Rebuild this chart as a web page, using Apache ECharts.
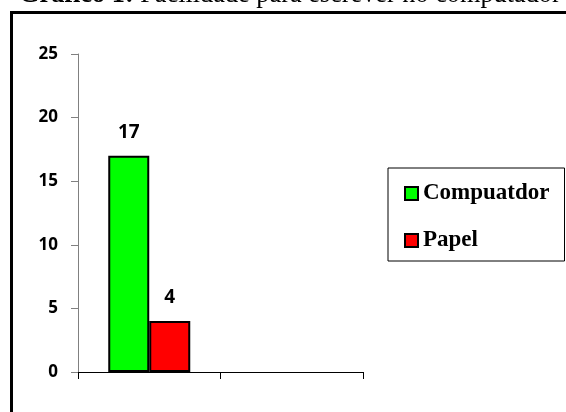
<!DOCTYPE html>
<html>
<head>
<meta charset="utf-8">
<script src="https://cdn.jsdelivr.net/npm/echarts@6/dist/echarts.min.js"></script>
<style>
  html, body { margin: 0; padding: 0; background: #fff; }
  #chart { width: 566px; height: 412px; }
</style>
</head>
<body>
<div id="chart"></div>
<script>
// two category slots, only the first one carries values
const categories = ['', ''];
const computador = [17, '-'];
const papel = [4, '-'];
const seriesNames = ['Compuatdor', 'Papel'];
const yTicks = { min: 0, max: 25, interval: 5 };

const chart = echarts.init(document.getElementById('chart'));

const barLabel = {
  show: true, position: 'top', distance: 14,
  fontFamily: 'Open Sans', fontWeight: 'bold', fontSize: 19, color: '#000'
};

chart.setOption({
  animation: false,
  backgroundColor: '#fff',
  title: {
    text: '{b|Gráfico 1:} Facilidade para escrever no computador',
    left: 19, top: -18, padding: 0,
    textStyle: {
      fontFamily: 'Liberation Serif', fontSize: 26.3, fontWeight: 'normal', color: '#000',
      rich: { b: { fontFamily: 'Liberation Serif', fontSize: 26.3, fontWeight: 'bold', color: '#000' } }
    }
  },
  graphic: [{
    type: 'rect', silent: true, z: -1,
    shape: { x: 11.5, y: 12.5, width: 600, height: 420 },
    style: { fill: 'none', stroke: '#000', lineWidth: 3 }
  }],
  legend: {
    orient: 'vertical', left: 388, top: 168,
    padding: [14, 15, 9, 16],
    itemGap: 24, itemWidth: 13, itemHeight: 13, itemSpacing: 5,
    icon: 'rect',
    borderColor: '#000', borderWidth: 1,
    textStyle: { fontFamily: 'Liberation Serif', fontWeight: 'bold', fontSize: 23, lineHeight: 20, color: '#000' },
    data: seriesNames
  },
  grid: { left: 78, right: 203, top: 54, bottom: 40 },
  xAxis: {
    type: 'category', data: categories,
    axisLine: { lineStyle: { color: '#000', width: 1 } },
    axisTick: { show: true, length: 7, lineStyle: { color: '#000' } },
    axisLabel: { show: false }
  },
  yAxis: {
    type: 'value', min: yTicks.min, max: yTicks.max, interval: yTicks.interval,
    axisLine: { show: true, lineStyle: { color: '#808080', width: 1 } },
    axisTick: { show: true, length: 7, lineStyle: { color: '#808080' } },
    splitLine: { show: false },
    axisLabel: { margin: 20, fontFamily: 'Open Sans', fontWeight: 'bold', fontSize: 17, color: '#000' }
  },
  series: [
    {
      name: seriesNames[0], type: 'bar', data: computador,
      barWidth: 41, barGap: '0%',
      itemStyle: { color: '#00ff00', borderColor: '#000', borderWidth: 2 },
      label: barLabel
    },
    {
      name: seriesNames[1], type: 'bar', data: papel,
      barWidth: 41,
      itemStyle: { color: '#ff0000', borderColor: '#000', borderWidth: 2 },
      label: barLabel
    }
  ]
});
</script>
</body>
</html>
